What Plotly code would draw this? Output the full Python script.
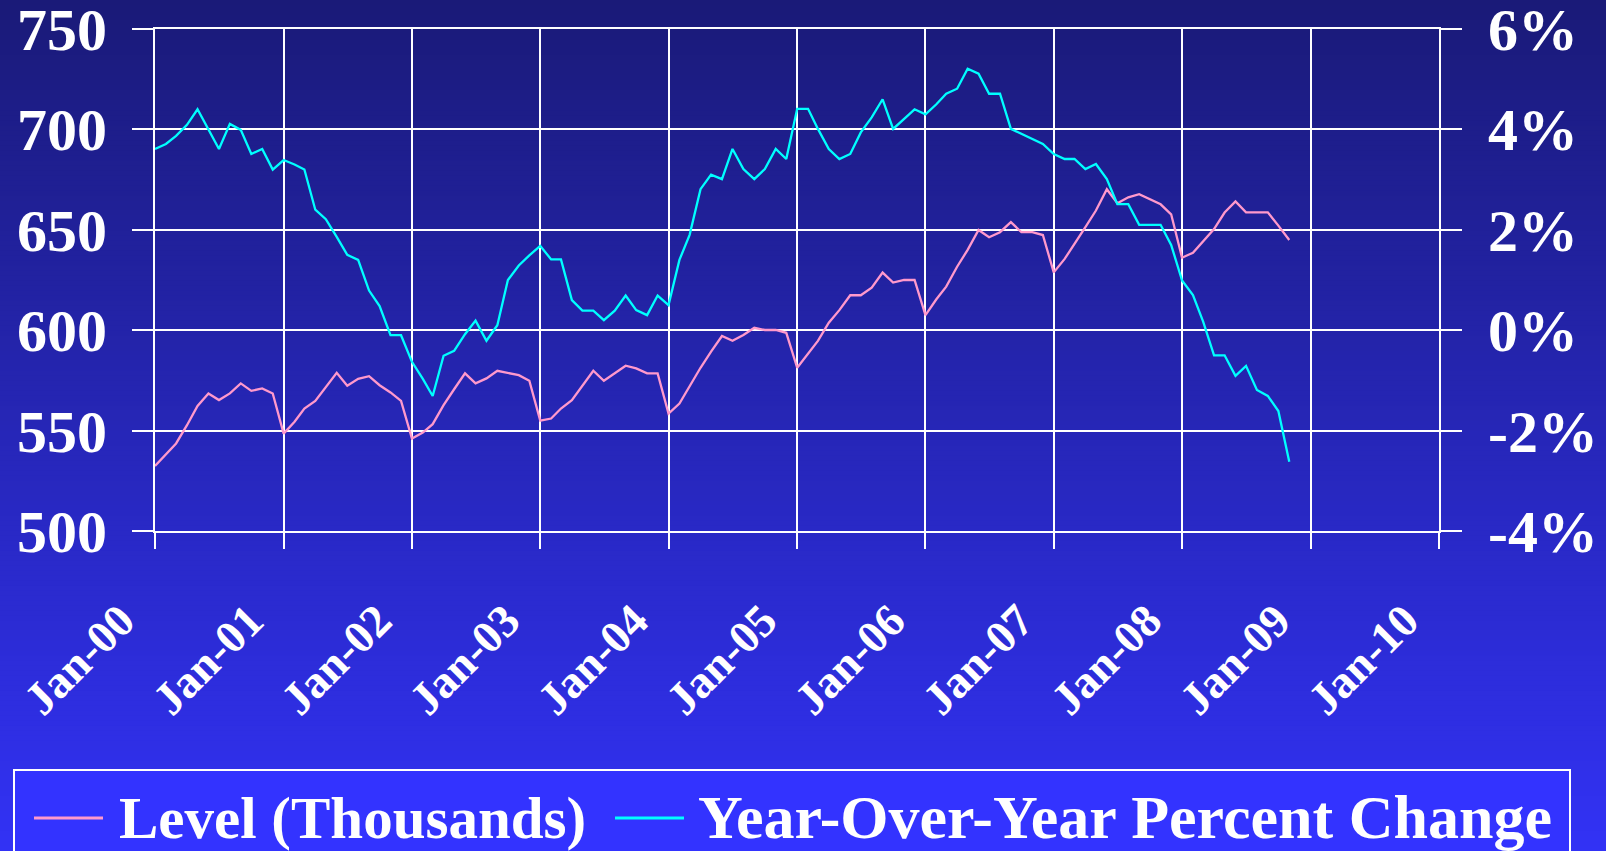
import pandas as pd
import plotly.graph_objects as go

# monthly series, Jan 2000 .. Nov 2008
level = [
    532.4, 538.1, 543.6, 552.7, 562.3, 568.5, 565.2, 568.5, 573.5, 569.8, 571.0, 568.5,  # 2000
    548.5, 554.4, 561.0, 564.8, 571.5, 578.8, 572.3, 575.8, 577.1, 572.6, 569.0, 564.8,  # 2001
    546.0, 549.0, 553.2, 562.7, 570.6, 578.5, 573.5, 576.0, 579.8, 578.8, 577.6, 574.8,  # 2002
    555.0, 556.0, 561.0, 565.2, 572.1, 579.8, 574.8, 578.5, 582.3, 581.0, 578.5, 578.5,  # 2003
    558.5, 563.5, 572.1, 581.3, 589.3, 597.1, 594.7, 597.6, 601.2, 600.1, 600.1, 598.7,  # 2004
    581.3, 588.4, 594.7, 603.7, 610.0, 617.4, 617.4, 621.2, 628.7, 623.7, 625.0, 625.0,  # 2005
    607.5, 615.4, 621.7, 631.6, 640.0, 649.9, 646.3, 648.8, 653.8, 648.8, 648.8, 647.4,  # 2006
    628.8, 635.5, 643.3, 651.3, 659.6, 670.2, 663.2, 666.2, 667.7, 665.2, 662.7, 657.7,  # 2007
    636.1, 638.6, 644.1, 650.4, 658.6, 664.1, 658.7, 658.7, 658.7, 652.1, 644.9,         # 2008
]

yoy_pct = [
    3.61, 3.71, 3.87, 4.09, 4.40, 3.99, 3.61, 4.11, 3.99, 3.51, 3.61, 3.20,  # 2000
    3.39, 3.30, 3.20, 2.40, 2.21, 1.86, 1.50, 1.40, 0.79, 0.48, -0.10, -0.10,  # 2001
    -0.63, -0.97, -1.31, -0.51, -0.41, -0.08, 0.19, -0.21, 0.10, 1.00, 1.29, 1.49,  # 2002
    1.68, 1.41, 1.41, 0.60, 0.39, 0.39, 0.20, 0.39, 0.69, 0.40, 0.30, 0.69,  # 2003
    0.50, 1.40, 1.90, 2.81, 3.10, 3.01, 3.61, 3.21, 3.01, 3.21, 3.61, 3.41,  # 2004
    4.41, 4.41, 4.01, 3.61, 3.41, 3.51, 3.94, 4.24, 4.60, 4.01, 4.21, 4.40,  # 2005
    4.30, 4.50, 4.71, 4.81, 5.21, 5.11, 4.71, 4.71, 4.01, 3.91, 3.81, 3.71,  # 2006
    3.51, 3.41, 3.41, 3.21, 3.31, 3.01, 2.51, 2.51, 2.10, 2.10, 2.10, 1.70,  # 2007
    0.99, 0.70, 0.17, -0.50, -0.50, -0.91, -0.71, -1.19, -1.31, -1.61, -2.62,  # 2008
]

months = pd.date_range("2000-01-01", periods=len(level), freq="MS")

year_ticks = pd.date_range("2000-01-01", "2010-01-01", freq="YS")
year_labels = ["Jan-00", "Jan-01", "Jan-02", "Jan-03", "Jan-04", "Jan-05",
               "Jan-06", "Jan-07", "Jan-08", "Jan-09", "Jan-10"]

left_ticks = [500, 550, 600, 650, 700, 750]
left_labels = ["500", "550", "600", "650", "700", "750"]
right_ticks = [-4, -2, 0, 2, 4, 6]
right_labels = ["-4%", "-2%", "0%", "2%", "4%", "6%"]

legend_names = ["Level (Thousands)", "Year-Over-Year Percent Change"]

PINK = "#FF99CC"
CYAN = "#00FFFF"
FONT = "Liberation Serif, Times New Roman, serif"

W, H = 1606, 851
L, R, T, B = 155, 167, 29, 320
PW, PH = W - L - R, H - T - B


def px_x(px):
    return (px - L) / PW


def px_y(py):
    return (H - B - py) / PH


fig = go.Figure()
fig.add_trace(go.Scatter(x=months, y=level, mode="lines", name=legend_names[0],
                         line=dict(color=PINK, width=2.3), yaxis="y"))
fig.add_trace(go.Scatter(x=months, y=yoy_pct, mode="lines", name=legend_names[1],
                         line=dict(color=CYAN, width=2.3), yaxis="y2"))

# vertical gradient background, drawn as thin bands
shapes = []
n_bands = 170
top_c, bot_c = (26, 26, 120), (50, 50, 245)
for i in range(n_bands):
    y0 = H * i / n_bands
    y1 = H * (i + 1) / n_bands + 1
    t = i / (n_bands - 1)
    c = tuple(int(round(a + (b - a) * t)) for a, b in zip(top_c, bot_c))
    shapes.append(dict(type="rect", xref="paper", yref="paper", layer="below",
                       x0=px_x(-2), x1=px_x(W + 2), y0=px_y(y1), y1=px_y(y0 - (2 if i == 0 else 0)),
                       fillcolor="rgb(%d,%d,%d)" % c, line=dict(width=0)))

# legend box and samples
shapes.append(dict(type="rect", xref="paper", yref="paper", layer="above",
                   x0=px_x(14), x1=px_x(1570), y0=px_y(900), y1=px_y(770),
                   fillcolor="#3333FF", line=dict(color="white", width=2)))
shapes.append(dict(type="line", xref="paper", yref="paper",
                   x0=px_x(34), x1=px_x(103), y0=px_y(818), y1=px_y(818),
                   line=dict(color=PINK, width=3)))
shapes.append(dict(type="line", xref="paper", yref="paper",
                   x0=px_x(615), x1=px_x(684), y0=px_y(818), y1=px_y(818),
                   line=dict(color=CYAN, width=3)))

annotations = [
    dict(text="<b>%s</b>" % legend_names[0], xref="paper", yref="paper",
         x=px_x(117), y=px_y(818), xanchor="left", yanchor="middle", showarrow=False,
         font=dict(family=FONT, size=59, color="white")),
    dict(text="<b>%s</b>" % legend_names[1], xref="paper", yref="paper",
         x=px_x(696), y=px_y(817), xanchor="left", yanchor="middle", showarrow=False,
         font=dict(family=FONT, size=62, color="white")),
]

fig.update_layout(
    width=W, height=H,
    margin=dict(l=L, r=R, t=T, b=B, autoexpand=False),
    paper_bgcolor="rgb(50,50,245)",
    plot_bgcolor="rgba(0,0,0,0)",
    showlegend=False,
    shapes=shapes,
    annotations=annotations,
    xaxis=dict(
        type="date", range=["2000-01-01", "2010-01-01"], automargin=False,
        tickvals=year_ticks, ticktext=year_labels, tickangle=-45,
        showgrid=True, gridcolor="white", gridwidth=2,
        ticks="outside", ticklen=16, tickwidth=2, tickcolor="white",
        showline=True, linecolor="white", linewidth=2, mirror=True,
        zeroline=False, ticklabelstandoff=26, ticklabelshift=-34,
        ticklabeloverflow="allow",
        tickfont=dict(family=FONT, size=46, color="white", weight="bold"),
    ),
    yaxis=dict(
        range=[500, 750], tickvals=left_ticks, ticktext=left_labels, automargin=False,
        showgrid=True, gridcolor="white", gridwidth=2,
        ticks="outside", ticklen=21, tickwidth=2, tickcolor="white",
        showline=True, linecolor="white", linewidth=2,
        zeroline=False, ticklabelstandoff=13, ticklabeloverflow="allow",
        tickfont=dict(family=FONT, size=60, color="white", weight="bold"),
    ),
    yaxis2=dict(
        range=[-4, 6], tickvals=right_ticks, ticktext=right_labels, automargin=False,
        overlaying="y", side="right", showgrid=False,
        ticks="outside", ticklen=21, tickwidth=2, tickcolor="white",
        showline=True, linecolor="white", linewidth=2,
        zeroline=False, ticklabelstandoff=14, ticklabeloverflow="allow",
        tickfont=dict(family=FONT, size=60, color="white", weight="bold"),
    ),
)

# the page's default body margin would shift the figure by 8 px
fig.write_html("out.html", config={"displayModeBar": False},
               post_script="document.body.style.margin = '0px';")
